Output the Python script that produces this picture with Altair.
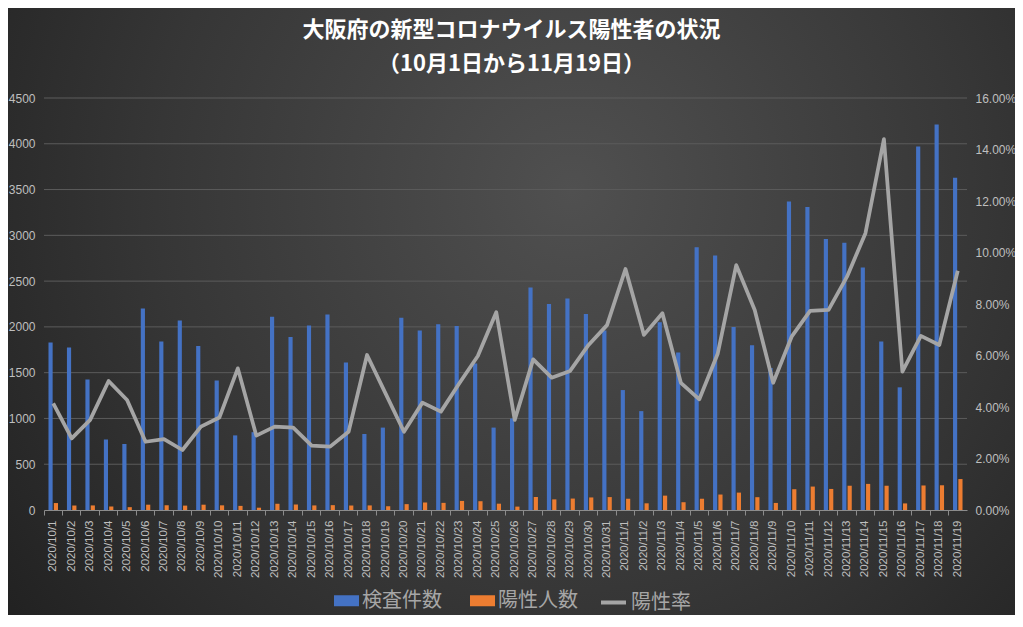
import altair as alt
import pandas as pd

dates = [
    "2020/10/1", "2020/10/2", "2020/10/3", "2020/10/4", "2020/10/5", "2020/10/6", "2020/10/7",
    "2020/10/8", "2020/10/9", "2020/10/10", "2020/10/11", "2020/10/12", "2020/10/13", "2020/10/14",
    "2020/10/15", "2020/10/16", "2020/10/17", "2020/10/18", "2020/10/19", "2020/10/20", "2020/10/21",
    "2020/10/22", "2020/10/23", "2020/10/24", "2020/10/25", "2020/10/26", "2020/10/27", "2020/10/28",
    "2020/10/29", "2020/10/30", "2020/10/31", "2020/11/1", "2020/11/2", "2020/11/3", "2020/11/4",
    "2020/11/5", "2020/11/6", "2020/11/7", "2020/11/8", "2020/11/9", "2020/11/10", "2020/11/11",
    "2020/11/12", "2020/11/13", "2020/11/14", "2020/11/15", "2020/11/16", "2020/11/17", "2020/11/18",
    "2020/11/19",
]

tests = [
    1830, 1775, 1425, 770, 720, 2200, 1840, 2070, 1790, 1415,
    815, 850, 2110, 1890, 2015, 2135, 1610, 830, 900, 2100,
    1960, 2030, 2010, 1600, 900, 1000, 2430, 2250, 2310, 2140,
    1960, 1310, 1080, 2050, 1720, 2870, 2780, 2000, 1800, 1550,
    3370, 3310, 2960, 2920, 2650, 1840, 1340, 3970, 4210, 3630,
]

positives = [
    76, 49, 50, 39, 31, 58, 51, 48, 58, 51,
    45, 25, 68, 60, 50, 53, 49, 50, 41, 64,
    82, 78, 99, 96, 69, 37, 142, 116, 125, 137,
    141, 123, 73, 157, 85, 123, 169, 190, 140, 77,
    227, 256, 230, 265, 285, 265, 72, 268, 270, 338,
]

rates = [
    0.0414, 0.0278, 0.0350, 0.0501, 0.0427, 0.0265, 0.0275, 0.0233, 0.0324, 0.0359,
    0.0550, 0.0289, 0.0324, 0.0320, 0.0250, 0.0246, 0.0304, 0.0602, 0.0453, 0.0304,
    0.0417, 0.0382, 0.0492, 0.0598, 0.0768, 0.0350, 0.0585, 0.0514, 0.0540, 0.0641,
    0.0718, 0.0936, 0.0680, 0.0764, 0.0494, 0.0430, 0.0608, 0.0951, 0.0777, 0.0494,
    0.0673, 0.0773, 0.0777, 0.0906, 0.1075, 0.1440, 0.0537, 0.0676, 0.0641, 0.0929,
]

series_names = ["検査件数", "陽性人数"]
rate_name = "陽性率"
left_ticks = [0, 500, 1000, 1500, 2000, 2500, 3000, 3500, 4000, 4500]
right_ticks = [0, 0.02, 0.04, 0.06, 0.08, 0.10, 0.12, 0.14, 0.16]

FONT = "Noto Sans CJK JP"
NUM_FONT = "Liberation Sans"
LABEL = "#bfbfbf"

W, H = 923, 412
PAD = {"left": 36, "top": 90, "right": 48, "bottom": 105}

bars_df = pd.DataFrame(
    {
        "date": dates * 2,
        "series": [series_names[0]] * len(dates) + [series_names[1]] * len(dates),
        "value": tests + positives,
    }
)
line_df = pd.DataFrame({"date": dates, "rate": rates, "name": [rate_name] * len(dates)})
grid_df = pd.DataFrame({"tick": left_ticks[1:]})
bg_df = pd.DataFrame({"k": [0]})

gradient = {
    "gradient": "radial",
    "x1": 0.56, "y1": 0.38, "r1": 0.0,
    "x2": 0.56, "y2": 0.38, "r2": 0.75,
    "stops": [
        {"offset": 0.0, "color": "#505050"},
        {"offset": 0.55, "color": "#363636"},
        {"offset": 1.0, "color": "#1e1e1e"},
    ],
}

bg = alt.Chart(bg_df).mark_rect(fill=gradient).encode(
    x=alt.value(-PAD["left"]),
    x2=alt.value(W + PAD["right"]),
    y=alt.value(-PAD["top"]),
    y2=alt.value(H + PAD["bottom"]),
)

grid = alt.Chart(grid_df).mark_rule(color="#5c5c5c", strokeWidth=1).encode(
    y=alt.Y("tick:Q", scale=alt.Scale(domain=[0, 4500], nice=False), axis=None),
    x=alt.value(0),
    x2=alt.value(W),
)

x_enc = alt.X(
    "date:N",
    sort=dates,
    scale=alt.Scale(domain=dates, paddingInner=0, paddingOuter=0),
    axis=alt.Axis(
        title=None,
        labelAngle=-90,
        labelFontSize=11.5,
        labelFont=NUM_FONT,
        labelColor=LABEL,
        labelOverlap=False,
        labelPadding=5,
        bandPosition=0,
        tickSize=5,
        tickColor="#8c8c8c",
        domainColor="#8c8c8c",
        grid=False,
        zindex=2,
    ),
)

bars = alt.Chart(bars_df).mark_bar().encode(
    x=x_enc,
    xOffset=alt.XOffset(
        "series:N",
        sort=series_names,
        scale=alt.Scale(domain=series_names, paddingInner=0.22, paddingOuter=0.84),
    ),
    y=alt.Y(
        "value:Q",
        scale=alt.Scale(domain=[0, 4500], nice=False),
        axis=alt.Axis(
            title=None,
            values=left_ticks,
            format="d",
            labelFontSize=12,
            labelFont=NUM_FONT,
            labelColor=LABEL,
            labelPadding=9,
            domain=False,
            ticks=False,
            grid=False,
            zindex=2,
        ),
    ),
    fill=alt.Fill(
        "series:N",
        sort=series_names,
        scale=alt.Scale(domain=series_names, range=["#4472C4", "#ED7D31"]),
        legend=alt.Legend(
            title=None,
            orient="none",
            legendX=290,
            legendY=490,
            direction="horizontal",
            labelFontSize=20,
            labelFont=FONT,
            labelColor="#a6a6a6",
            labelOffset=3,
            symbolType="M-1,-0.44H1V0.44H-1Z",
            symbolSize=625,
            symbolStrokeWidth=0,
            columnPadding=28,
            zindex=2,
        ),
    ),
)

line = alt.Chart(line_df).mark_line(strokeWidth=3.75, strokeJoin="round").encode(
    x=alt.X("date:N", sort=dates),
    y=alt.Y(
        "rate:Q",
        scale=alt.Scale(domain=[0, 0.16], nice=False),
        axis=alt.Axis(
            title=None,
            orient="right",
            values=right_ticks,
            format=".2%",
            labelFontSize=12,
            labelFont=NUM_FONT,
            labelColor=LABEL,
            labelPadding=8,
            domain=False,
            ticks=False,
            grid=False,
            zindex=2,
        ),
    ),
    stroke=alt.Stroke(
        "name:N",
        scale=alt.Scale(domain=[rate_name], range=["#a5a5a5"]),
        legend=alt.Legend(
            title=None,
            orient="none",
            legendX=555,
            legendY=490,
            labelFontSize=20,
            labelFont=FONT,
            labelColor="#a6a6a6",
            labelOffset=3,
            symbolType="stroke",
            symbolSize=625,
            symbolStrokeWidth=4,
            zindex=2,
        ),
    ),
)

chart = (
    alt.layer(bg, grid, bars, line)
    .resolve_scale(y="independent")
    .properties(
        width=W,
        height=H,
        autosize=alt.AutoSizeParams(type="none"),
        padding=PAD,
        background="#262626",
        title=alt.Title(
            ["大阪府の新型コロナウイルス陽性者の状況", "（10月1日から11月19日）"],
            font=FONT,
            fontSize=22,
            fontWeight="bold",
            color="#ffffff",
            anchor="middle",
            lineHeight=34,
            offset=-68,
            dx=6,
            zindex=2,
        ),
    )
    .configure_view(stroke=None)
)

chart.save("out.html", embed_options={"renderer": "svg", "actions": False})
